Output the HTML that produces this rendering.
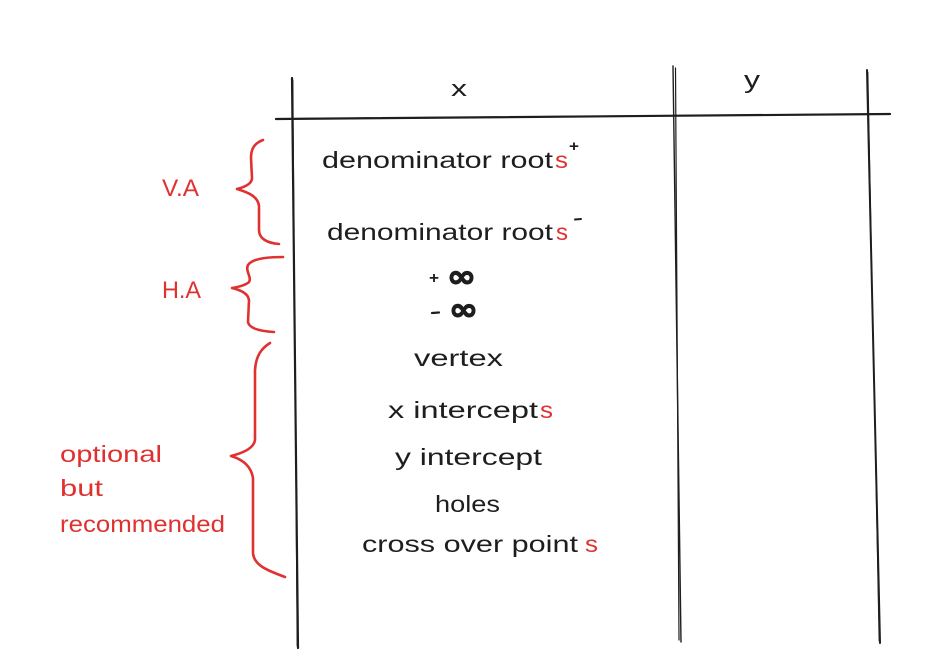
<!DOCTYPE html>
<html>
<head>
<meta charset="utf-8">
<style>
  html,body{margin:0;padding:0;background:#ffffff;}
  body{width:933px;height:666px;overflow:hidden;}
  svg{display:block;}
  .t{font-family:"Liberation Sans","DejaVu Sans",sans-serif;fill:#1e1e1e;}
  .r{font-family:"Liberation Sans","DejaVu Sans",sans-serif;fill:#e03131;}
</style>
</head>
<body>
<svg width="933" height="666" viewBox="0 0 933 666" xmlns="http://www.w3.org/2000/svg">
  <rect x="0" y="0" width="933" height="666" fill="#ffffff"/>

  <!-- table lines -->
  <g fill="none" stroke="#1e1e1e" stroke-linecap="round">
    <!-- horizontal header line -->
    <path d="M276,119 L890,114" stroke-width="2.2"/>
    <path d="M278,118.5 L888,113.6" stroke-width="0.8"/>
    <!-- left vertical -->
    <path d="M292,78 L298,648" stroke-width="2.2"/>
    <path d="M293,80 L297,646" stroke-width="0.8"/>
    <!-- middle vertical (double stroke) -->
    <path d="M673,66 L681,642" stroke-width="1.4"/>
    <path d="M675.5,68 L679,640" stroke-width="1.2"/>
    <!-- right vertical -->
    <path d="M867,70 L880,643" stroke-width="2"/>
    <path d="M868,72 L879,641" stroke-width="0.8"/>
  </g>

  <!-- red braces -->
  <g fill="none" stroke="#e03131" stroke-width="2.6" stroke-linecap="round" stroke-linejoin="round">
    <path d="M263,140 C255,143 251,148 251,158 L252,178 C252,184 245,187 237,189 C247,192 258,196 259,206 L259,230 C259,238 266,243 279,244"/>
    <path d="M283,257 C266,257 252,259 248,265 C245,271 252,277 249,282 C246,285 238,287 232,288 C240,290 248,293 249,300 L248,322 C249,328 258,331 274,332"/>
    <path d="M270,343 C262,348 256,355 255,370 L255,440 C254,448 243,453 231,456 C241,459 251,465 253,478 L253,553 C254,565 266,570 285,577"/>
  </g>

  <!-- header labels -->
  <text class="t" x="451" y="96" font-size="22" textLength="16" lengthAdjust="spacingAndGlyphs">x</text>
  <text class="t" x="744" y="88" font-size="24" textLength="16" lengthAdjust="spacingAndGlyphs">y</text>

  <!-- denominator roots + -->
  <text class="t" x="322" y="168" font-size="23" textLength="231" lengthAdjust="spacingAndGlyphs">denominator root</text>
  <text class="r" x="555" y="168" font-size="23" textLength="13" lengthAdjust="spacingAndGlyphs">s</text>
  <text class="t" x="569" y="151" font-size="15" font-weight="bold" textLength="10" lengthAdjust="spacingAndGlyphs">+</text>

  <!-- denominator roots - -->
  <text class="t" x="327" y="240" font-size="23" textLength="226" lengthAdjust="spacingAndGlyphs">denominator root</text>
  <text class="r" x="556" y="240" font-size="23" textLength="12" lengthAdjust="spacingAndGlyphs">s</text>
  <path d="M575,219.5 L581,219" stroke="#1e1e1e" stroke-width="2" stroke-linecap="round" fill="none"/>

  <!-- infinities -->
  <text class="t" x="429" y="283" font-size="16" font-weight="bold" textLength="10" lengthAdjust="spacingAndGlyphs">+</text>
  <text x="447" y="277" dominant-baseline="central" font-family="DejaVu Sans, sans-serif" font-size="30" font-weight="bold" fill="#1e1e1e" stroke="#1e1e1e" stroke-width="1.2" textLength="29" lengthAdjust="spacingAndGlyphs">∞</text>
  <path d="M432,313 L439,312.5" stroke="#1e1e1e" stroke-width="2.2" stroke-linecap="round" fill="none"/>
  <text x="449" y="310" dominant-baseline="central" font-family="DejaVu Sans, sans-serif" font-size="30" font-weight="bold" fill="#1e1e1e" stroke="#1e1e1e" stroke-width="1.2" textLength="29" lengthAdjust="spacingAndGlyphs">∞</text>

  <!-- list items -->
  <text class="t" x="414" y="366" font-size="23" textLength="89" lengthAdjust="spacingAndGlyphs">vertex</text>
  <text class="t" x="388" y="418" font-size="23" textLength="150" lengthAdjust="spacingAndGlyphs">x intercept</text>
  <text class="r" x="540" y="418" font-size="23" textLength="13" lengthAdjust="spacingAndGlyphs">s</text>
  <text class="t" x="395" y="465" font-size="23" textLength="147" lengthAdjust="spacingAndGlyphs">y intercept</text>
  <text class="t" x="435" y="512" font-size="23" textLength="65" lengthAdjust="spacingAndGlyphs">holes</text>
  <text class="t" x="362" y="552" font-size="23" textLength="216" lengthAdjust="spacingAndGlyphs">cross over point</text>
  <text class="r" x="585" y="552" font-size="23" textLength="13" lengthAdjust="spacingAndGlyphs">s</text>

  <!-- red side labels -->
  <text class="r" x="162" y="196" font-size="24" textLength="37" lengthAdjust="spacingAndGlyphs">V.A</text>
  <text class="r" x="162" y="298" font-size="24" textLength="39" lengthAdjust="spacingAndGlyphs">H.A</text>
  <text class="r" x="60" y="462" font-size="23" textLength="102" lengthAdjust="spacingAndGlyphs">optional</text>
  <text class="r" x="60" y="496" font-size="23" textLength="43" lengthAdjust="spacingAndGlyphs">but</text>
  <text class="r" x="60" y="532" font-size="23" textLength="165" lengthAdjust="spacingAndGlyphs">recommended</text>
</svg>
</body>
</html>
